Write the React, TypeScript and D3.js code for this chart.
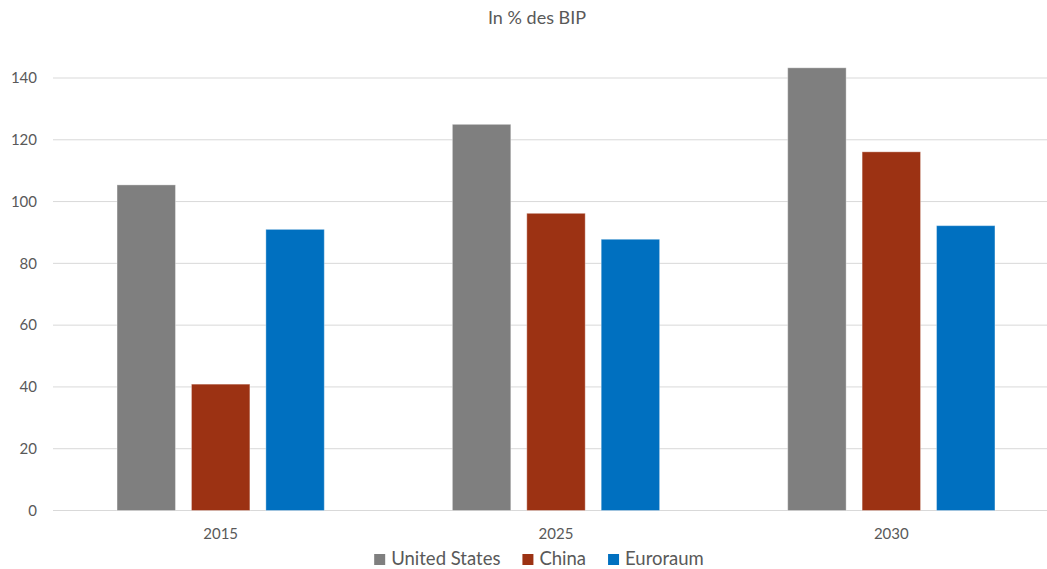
import React from "react";
import * as d3 from "d3";

// Staatsverschuldung in % des BIP
const categories = ["2015", "2025", "2030"];
const series = ["United States", "China", "Euroraum"];
const colors = ["#7f7f7f", "#9c3213", "#0070c0"];
const usValues = [105.4, 125.0, 143.3];
const chinaValues = [40.9, 96.2, 116.1];
const euroValues = [91.0, 87.8, 92.2];
const yTicks = [0, 20, 40, 60, 80, 100, 120, 140];
const title = "In % des BIP";

const W = 1047;
const H = 569;
const left = 53;
const right = 1059;
const top = 78;
const bottom = 510.5;
const FONT = "Lato, 'Open Sans', sans-serif";
const TEXT = "#595959";

function measure(text: string, size: number): number {
  if (typeof document === "undefined") return text.length * size * 0.5;
  const canvas = document.createElement("canvas");
  const ctx = canvas.getContext("2d");
  if (!ctx) return text.length * size * 0.5;
  ctx.font = `${size}px Lato`;
  return ctx.measureText(text).width;
}

export default function App() {
  const valuesBySeries = [usValues, chinaValues, euroValues];

  const x0 = d3.scaleBand<string>().domain(categories).range([left, right]).padding(0);
  const groupWidth = x0.bandwidth() * 0.618;
  const x1 = d3.scaleBand<string>().domain(series).range([0, groupWidth]).paddingInner(0.215);
  const y = d3.scaleLinear().domain([0, 140]).range([bottom, top]);

  // legend layout: square + label, items centred under the plot
  const legendFont = 18.5;
  const sq = 11;
  const textGap = 6;
  const gap = 22;
  const itemWidths = series.map((s) => sq + textGap + measure(s, legendFont));
  const totalLegend = itemWidths.reduce((a, b) => a + b, 0) + gap * (series.length - 1);
  let lx = 539 - totalLegend / 2;
  const legendItems = series.map((s, i) => {
    const item = { name: s, x: lx, color: colors[i] };
    lx += itemWidths[i] + gap;
    return item;
  });

  return (
    <svg width={W} height={H} style={{ position: "absolute", left: 0, top: 0, background: "#fff" }}>
      <rect x={0} y={0} width={W} height={H} fill="#fff" />
      <text x={537} y={24} textAnchor="middle" fontFamily={FONT} fontSize={18} fill={TEXT}>
        {title}
      </text>
      <g>
        {yTicks.map((t) => (
          <g key={t}>
            <line x1={left} x2={right} y1={y(t)} y2={y(t)} stroke="#d9d9d9" strokeWidth={1} />
            <text
              x={37}
              y={y(t)}
              dy="0.35em"
              textAnchor="end"
              fontFamily={FONT}
              fontSize={15}
              fill={TEXT}
            >
              {t}
            </text>
          </g>
        ))}
      </g>
      <g>
        {categories.map((c, ci) => {
          const gx = (x0(c) as number) + (x0.bandwidth() - groupWidth) / 2;
          return (
            <g key={c}>
              {series.map((s, si) => {
                const v = valuesBySeries[si][ci];
                return (
                  <rect
                    key={s}
                    x={gx + (x1(s) as number)}
                    y={y(v)}
                    width={x1.bandwidth()}
                    height={y(0) - y(v)}
                    fill={colors[si]}
                    stroke="#ffffff"
                    strokeOpacity={0.35}
                    strokeWidth={1}
                  />
                );
              })}
              <text
                x={(x0(c) as number) + x0.bandwidth() / 2}
                y={539}
                textAnchor="middle"
                fontFamily={FONT}
                fontSize={15}
                fill={TEXT}
              >
                {c}
              </text>
            </g>
          );
        })}
      </g>
      <g>
        {legendItems.map((it) => (
          <g key={it.name}>
            <rect x={it.x} y={554} width={sq} height={sq} fill={it.color} />
            <text x={it.x + sq + textGap} y={565} fontFamily={FONT} fontSize={legendFont} fill={TEXT}>
              {it.name}
            </text>
          </g>
        ))}
      </g>
    </svg>
  );
}
